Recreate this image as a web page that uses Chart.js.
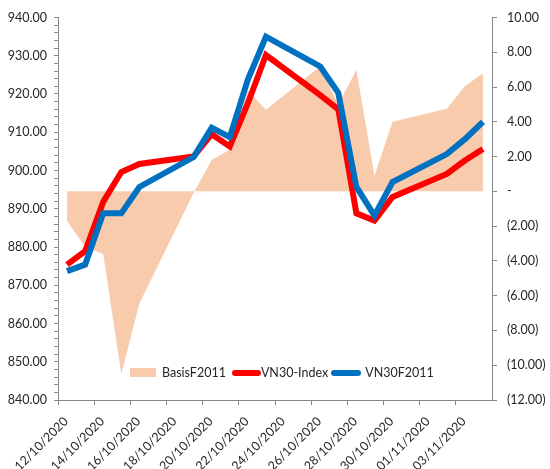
<!DOCTYPE html>
<html>
<head>
<meta charset="utf-8">
<script src="https://cdn.jsdelivr.net/npm/chart.js@4.4.1/dist/chart.umd.min.js"></script>
<style>
  html, body { margin: 0; padding: 0; background: #fff; }
  #wrap { position: relative; width: 550px; height: 469px; }
  #legend { position: absolute; left: 130px; top: 365px; font: 12.5px Lato, sans-serif; color: #262626; display: flex; align-items: center; white-space: nowrap; }
  #legend .box { display: inline-block; width: 26px; height: 9px; background: #F8CBAD; margin-right: 6px; }
  #legend .ln { display: inline-block; height: 6px; border-radius: 3px; }
</style>
</head>
<body>
<div id="wrap">
  <canvas id="myChart" width="550" height="469"></canvas>
  <div id="legend">
    <span class="box"></span><span>BasisF2011</span>
    <span class="ln" style="background:#FF0000;width:29px;margin-left:6px;"></span><span>VN30-Index</span>
    <span class="ln" style="background:#0070C0;width:30px;margin-left:3px;margin-right:4px;"></span><span>VN30F2011</span>
  </div>
</div>
<script>
"use strict";

// trading days
const dates = [
  "12/10/2020", "13/10/2020", "14/10/2020", "15/10/2020", "16/10/2020",
  "19/10/2020", "20/10/2020", "21/10/2020", "22/10/2020", "23/10/2020",
  "26/10/2020", "27/10/2020", "28/10/2020", "29/10/2020", "30/10/2020",
  "02/11/2020", "03/11/2020", "04/11/2020"
];
const vn30Index = [
  875.4, 878.9, 891.8, 899.6, 901.7,
  903.7, 909.5, 906.3, 917.6, 930.2,
  919.7, 916.0, 888.8, 886.9, 893.1,
  899.1, 902.6, 905.6
];
const vn30F2011 = [
  873.7, 875.4, 888.8, 888.8, 895.7,
  903.5, 911.2, 908.7, 923.8, 935.0,
  927.2, 920.3, 895.7, 888.2, 897.0,
  904.3, 908.2, 912.7
];
const basisF2011 = [
  -1.7, -3.2, -3.6, -10.5, -6.45,
  -0.1, 1.8, 2.4, 5.8, 4.7,
  7.2, 5.0, 7.0, 0.9, 4.0,
  4.75, 6.05, 6.8
];
// axis range
const firstDay = "12/10/2020";
const dayCount = 24;
const leftTicks = [840, 940];
const rightTicks = [-12, 10];

function toUtc(s) {
  let p = s.split("/");
  return Date.UTC(+p[2], +p[1] - 1, +p[0]);
}
const dayMs = 86400000;
const start = toUtc(firstDay);

// x position of each point = day offset + half a day (Excel date axis)
function points(values) {
  let out = [];
  for (let i = 0; i < dates.length; i++) {
    out.push({ x: (toUtc(dates[i]) - start) / dayMs + 0.5, y: values[i] });
  }
  return out;
}

function dayLabel(v) {
  let d = new Date(start + v * dayMs);
  let dd = String(d.getUTCDate()).padStart(2, "0");
  let mm = String(d.getUTCMonth() + 1).padStart(2, "0");
  return dd + "/" + mm + "/" + d.getUTCFullYear();
}

function accounting(v) {
  if (v === 0) return "-";
  let s = Math.abs(v).toFixed(2);
  return v < 0 ? "(" + s + ")" : s;
}

const axisColor = "#868686";
const font = { family: "Lato", size: 12.5 };

const data = {
  datasets: [
    {
      label: "BasisF2011",
      data: points(basisF2011),
      yAxisID: "y1",
      borderWidth: 0,
      backgroundColor: "#F8CBAD",
      fill: "origin",
      pointRadius: 0,
      tension: 0,
      order: 3,
    },
    {
      label: "VN30-Index",
      data: points(vn30Index),
      yAxisID: "y",
      borderColor: "#FF0000",
      borderWidth: 6,
      pointRadius: 0,
      fill: false,
      tension: 0,
      order: 2,
    },
    {
      label: "VN30F2011",
      data: points(vn30F2011),
      yAxisID: "y",
      borderColor: "#0070C0",
      borderWidth: 6,
      pointRadius: 0,
      fill: false,
      tension: 0,
      order: 1,
    },
  ],
};

const config = {
  type: "line",
  data: data,
  options: {
    responsive: false,
    animation: false,
    layout: { padding: { top: 14, left: 0, right: 0, bottom: 0 } },
    plugins: { legend: { display: false }, tooltip: { enabled: false } },
    scales: {
      x: {
        type: "linear",
        min: 0,
        max: dayCount,
        afterFit: (s) => { s.height = 69; },
        afterBuildTicks: (s) => {
          let t = [];
          for (let v = 0; v < dayCount; v += 2) t.push({ value: v });
          s.ticks = t;
        },
        ticks: {
          autoSkip: false,
          maxRotation: 45,
          minRotation: 45,
          padding: 9,
          labelOffset: 8,
          color: "#262626",
          font: font,
          callback: (v) => dayLabel(v),
        },
        grid: { drawOnChartArea: false, drawTicks: true, tickLength: 5, color: axisColor },
        border: { display: true, color: axisColor },
      },
      y: {
        position: "left",
        min: leftTicks[0],
        max: leftTicks[1],
        afterFit: (s) => { s.width = 58; },
        ticks: {
          stepSize: 2,
          autoSkip: false,
          padding: 7,
          color: "#262626",
          font: font,
          callback: (v) => (v % 10 === 0 ? v.toFixed(2) : ""),
        },
        grid: { drawOnChartArea: false, drawTicks: true, tickLength: 4, color: axisColor },
        border: { display: true, color: axisColor },
      },
      y1: {
        position: "right",
        min: rightTicks[0],
        max: rightTicks[1],
        afterFit: (s) => { s.width = 58; },
        ticks: {
          stepSize: 2,
          padding: 10,
          color: "#262626",
          font: font,
          callback: (v) => accounting(v),
        },
        grid: { drawOnChartArea: false, drawTicks: true, tickLength: 5, color: axisColor },
        border: { display: true, color: axisColor },
      },
    },
  },
};

const myChart = new Chart(document.getElementById("myChart"), config);
</script>
</body>
</html>
